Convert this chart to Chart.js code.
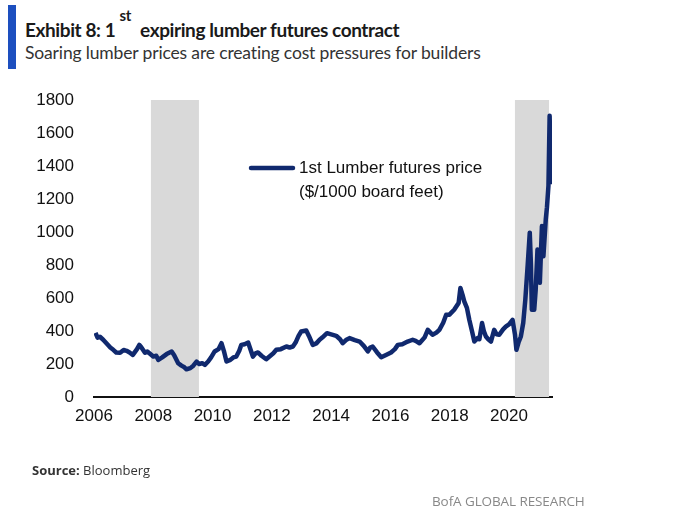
<!DOCTYPE html>
<html>
<head>
<meta charset="utf-8">
<script src="https://cdn.jsdelivr.net/npm/chart.js@4"></script>
<style>
  body { margin:0; width:700px; height:525px; background:#fff; position:relative; overflow:hidden; }
  #chartBox { position:absolute; left:0; top:0; width:700px; height:525px; }
  .bar { position:absolute; left:8px; top:5px; width:8px; height:64px; background:#1d4fbf; }
  .title { position:absolute; left:25px; top:15px; font-family:Lato, sans-serif; font-weight:bold; font-size:19px; letter-spacing:-0.4px; color:#1a1a1a; white-space:nowrap; }
  .title sup { font-size:15px; position:relative; top:-9px; margin:0 5px 0 4px; }
  .sub { position:absolute; left:25px; top:42px; font-family:Lato, sans-serif; font-size:17.5px; letter-spacing:-0.15px; color:#333; white-space:nowrap; }
  .src { position:absolute; left:32px; top:461px; font-family:"Open Sans", sans-serif; font-size:13px; color:#333; }
  .brand { position:absolute; left:432px; top:492px; font-family:"Open Sans", sans-serif; font-size:13.5px; color:#888; letter-spacing:-0.1px; }
</style>
</head>
<body>
<div class="bar"></div>
<div class="title">Exhibit 8: 1<sup>st</sup> expiring lumber futures contract</div>
<div class="sub">Soaring lumber prices are creating cost pressures for builders</div>
<div id="chartBox"><canvas id="myChart" width="700" height="525"></canvas></div>
<div class="src"><b>Source:</b> Bloomberg</div>
<div class="brand">BofA GLOBAL RESEARCH</div>
<script>
// lumber futures (decimal years, $/1000 board feet)
const years = [2006.05,2006.12,2006.2,2006.31,2006.45,2006.55,2006.65,2006.75,2006.88,2007.0,2007.1,2007.2,2007.31,2007.45,2007.53,2007.6,2007.72,2007.8,2007.89,
  2008.0,2008.1,2008.17,2008.3,2008.45,2008.62,2008.7,2008.84,2008.95,2009.05,2009.12,2009.25,2009.35,2009.46,2009.55,2009.65,2009.74,2009.85,2009.95,
  2010.07,2010.2,2010.3,2010.38,2010.47,2010.6,2010.7,2010.8,2010.9,2010.97,2011.08,2011.2,2011.36,2011.45,2011.53,2011.65,2011.81,2011.95,
  2012.05,2012.15,2012.3,2012.49,2012.6,2012.71,2012.8,2012.9,2012.99,2013.16,2013.25,2013.38,2013.5,2013.61,2013.7,2013.86,
  2014.0,2014.17,2014.3,2014.39,2014.5,2014.62,2014.8,2014.96,2015.1,2015.24,2015.32,2015.4,2015.55,2015.69,2015.85,
  2016.02,2016.15,2016.25,2016.4,2016.58,2016.75,2016.85,2016.98,2017.15,2017.26,2017.42,2017.55,2017.65,2017.78,2017.88,2017.99,
  2018.15,2018.3,2018.36,2018.43,2018.49,2018.58,2018.66,2018.75,2018.83,2018.94,2019.0,2019.09,2019.15,2019.22,2019.3,2019.39,2019.5,2019.58,2019.67,2019.8,2019.9,
  2020.0,2020.12,2020.2,2020.25,2020.32,2020.4,2020.48,2020.55,2020.63,2020.7,2020.74,2020.77,2020.85,2020.9,2020.96,2021.0,2021.04,2021.11,2021.16,2021.24,2021.28,2021.33,2021.37,2021.42];
const prices = [389,360,365,347,320,300,286,270,268,285,280,270,255,290,316,300,268,275,262,
  245,250,225,240,260,276,255,205,190,180,168,175,190,215,200,205,195,215,240,
  276,290,326,280,215,225,240,245,280,316,320,330,245,265,270,250,229,250,
  265,286,290,306,300,306,330,370,397,403,370,316,325,347,360,387,
  380,371,350,326,345,357,345,336,310,276,300,306,270,241,255,
  270,290,316,320,336,347,340,326,360,407,377,390,407,450,499,499,
  529,570,661,620,580,540,468,400,336,357,350,448,400,367,350,336,407,380,377,410,428,
  440,468,380,286,330,367,450,590,800,996,800,529,529,650,894,750,692,1036,853,1077,1150,1279,1705,1290];

// recession shading (start, end)
const recessionStart = [2007.92, 2020.2];
const recessionEnd = [2009.54, 2021.35];

const xTicks = [2006,2008,2010,2012,2014,2016,2018,2020];
const yTicks = [0,200,400,600,800,1000,1200,1400,1600,1800];
const seriesLabel = ['1st Lumber futures price', '($/1000 board feet)'];

const points = years.map((yr, i) => ({x: yr, y: prices[i]}));

// grey bars behind the line
const shadePlugin = {
  id: 'shade',
  beforeDatasetsDraw(chart) {
    const {ctx, chartArea, scales} = chart;
    ctx.save();
    ctx.fillStyle = '#d9d9d9';
    for (let i = 0; i < recessionStart.length; i++) {
      const x0 = scales.x.getPixelForValue(recessionStart[i]);
      const x1 = scales.x.getPixelForValue(recessionEnd[i]);
      ctx.fillRect(x0, chartArea.top, x1 - x0, chartArea.bottom - chartArea.top);
    }
    ctx.restore();
  }
};

// legend inside the plot
const legendPlugin = {
  id: 'inlineLegend',
  afterDraw(chart) {
    const ctx = chart.ctx;
    ctx.save();
    ctx.strokeStyle = '#10296e';
    ctx.lineWidth = 4.5;
    ctx.lineCap = 'round';
    ctx.beginPath();
    ctx.moveTo(251, 168);
    ctx.lineTo(293, 168);
    ctx.stroke();
    ctx.fillStyle = '#111';
    ctx.font = '17px "Liberation Sans", Arial, sans-serif';
    ctx.textBaseline = 'middle';
    ctx.fillText(seriesLabel[0], 299, 168);
    ctx.fillText(seriesLabel[1], 299, 192);
    ctx.restore();
  }
};

var ctx = document.getElementById('myChart').getContext('2d');
var myChart = new Chart(ctx, {
  type: 'line',
  data: {
    datasets: [{
      label: seriesLabel.join(' '),
      data: points,
      borderColor: '#10296e',
      backgroundColor: '#10296e',
      borderWidth: 4.5,
      pointRadius: 0,
      tension: 0,
      borderJoinStyle: 'round'
    }]
  },
  options: {
    responsive: false,
    animation: false,
    layout: { padding: { left: 0, right: 148, top: 100, bottom: 98 } },
    plugins: { legend: { display: false }, tooltip: { enabled: false } },
    scales: {
      x: {
        type: 'linear',
        min: 2006,
        max: 2021.45,
        grid: { display: false, drawTicks: false },
        border: { display: true, color: '#111', width: 2 },
        afterBuildTicks: (s) => { s.ticks = xTicks.map(v => ({value: v})); },
        afterFit: (s) => { s.height = 30; },
        ticks: {
          padding: 9,
          color: '#111',
          font: { family: '"Liberation Sans", Arial, sans-serif', size: 17 },
          maxRotation: 0,
          autoSkip: false,
          callback: (v) => String(v)
        }
      },
      y: {
        min: 0,
        max: 1800,
        grid: { display: false, drawTicks: false },
        border: { display: false },
        afterBuildTicks: (s) => { s.ticks = yTicks.map(v => ({value: v})); },
        afterFit: (s) => { s.width = 94; },
        ticks: {
          padding: 20,
          color: '#111',
          font: { family: '"Liberation Sans", Arial, sans-serif', size: 17 },
          callback: (v) => String(v)
        }
      }
    }
  },
  plugins: [shadePlugin, legendPlugin]
});
</script>
</body>
</html>
